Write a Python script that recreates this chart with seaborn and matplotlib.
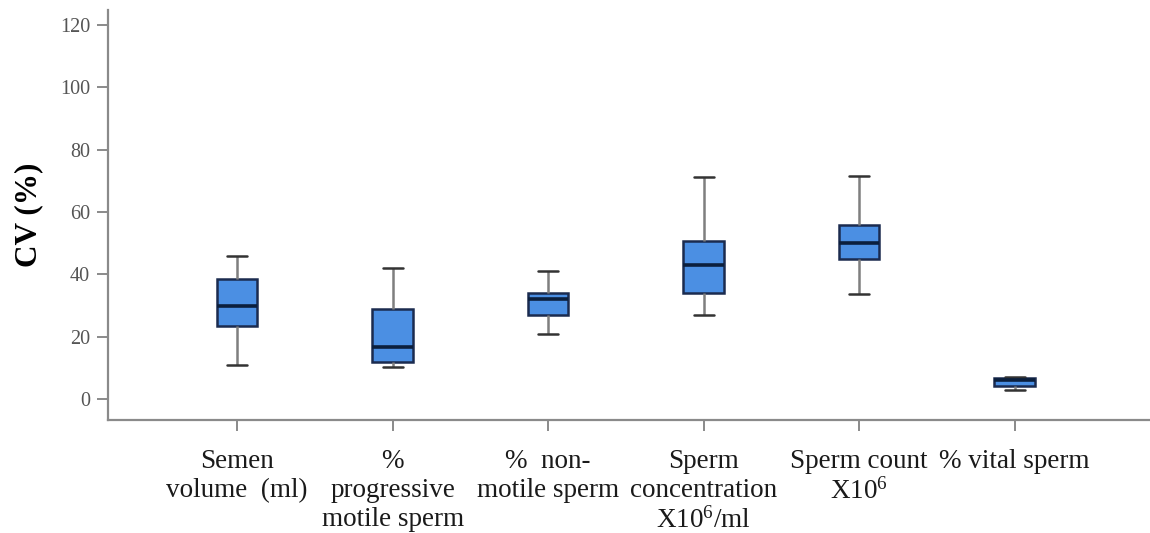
import numpy as np
import pandas as pd
import matplotlib
matplotlib.use("Agg")
import matplotlib.pyplot as plt
import seaborn as sns

# Categories (x tick labels)
categories = [
    "Semen\nvolume  (ml)",
    "%\nprogressive\nmotile sperm",
    "%  non-\nmotile sperm",
    "Sperm\nconcentration\nX10$\\mathregular{^6}$/ml",
    "Sperm count\nX10$\\mathregular{^6}$",
    "% vital sperm",
]
# Five-number summaries (CV %)
whisker_low = [10.8, 10.2, 21.0, 27.0, 33.7, 3.0]
q1 = [23.4, 11.8, 27.0, 33.9, 45.0, 4.3]
median = [30.0, 16.8, 32.2, 43.0, 50.0, 6.0]
q3 = [38.4, 28.8, 33.9, 50.8, 55.8, 6.8]
whisker_high = [46.0, 42.1, 41.2, 71.3, 71.6, 7.0]
y_ticks = [0, 20, 40, 60, 80, 100, 120]

rows = []
for i, c in enumerate(categories):
    for v in (whisker_low[i], q1[i], median[i], q3[i], whisker_high[i]):
        rows.append({"cat": c, "cv": v})
df = pd.DataFrame(rows)

sns.set_style("white")
plt.rcParams["font.family"] = ["Liberation Serif", "DejaVu Serif"]
plt.rcParams["mathtext.fontset"] = "custom"
plt.rcParams["mathtext.rm"] = "Liberation Serif"

fig = plt.figure(figsize=(11.5, 5.33), dpi=100)
ax = fig.add_axes([0.094, 0.212, 0.906, 0.769])

sns.boxplot(
    data=df, x="cat", y="cv", order=categories, ax=ax,
    width=0.26, whis=(0, 100), color="#4b8fe3",
    boxprops=dict(facecolor="#4b8fe3", edgecolor="#1b2b4f", linewidth=1.8),
    medianprops=dict(color="#0b1f3d", linewidth=2.6),
    whiskerprops=dict(color="#7f7f7f", linewidth=1.8),
    capprops=dict(color="#333333", linewidth=1.8),
    showfliers=False,
)

ax.set_xlim(-0.83, 5.87)
ax.set_ylim(-6.7, 124.8)
ax.set_yticks(y_ticks)
ax.set_yticklabels([str(t) for t in y_ticks], color="#555555", fontsize=14.5)
ax.set_xticks(range(len(categories)))
ax.set_xticklabels(categories, fontsize=19.5, color="#1a1a1a", linespacing=1.2, va="top")
ax.set_xlabel("")
ax.set_ylabel("CV (%)", fontsize=22.5, fontweight="bold", color="black", labelpad=12)

for s in ["top", "right"]:
    ax.spines[s].set_visible(False)
for s in ["left", "bottom"]:
    ax.spines[s].set_color("#8a8a8a")
    ax.spines[s].set_linewidth(1.6)
ax.tick_params(axis="both", which="major", direction="out", length=8, width=1.4,
               color="#8a8a8a", left=True, bottom=True)
ax.tick_params(axis="x", pad=13)
ax.tick_params(axis="y", pad=5)

fig.savefig("out.png", dpi=100)
